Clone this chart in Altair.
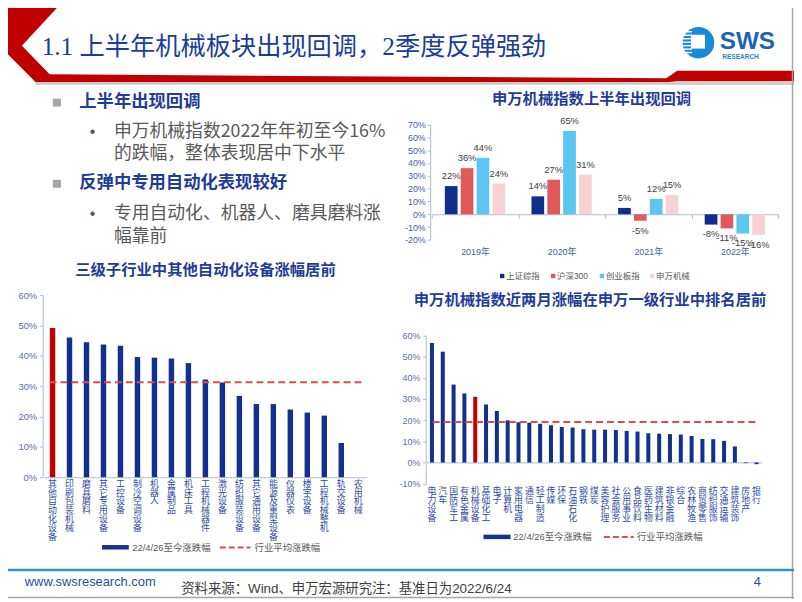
import altair as alt
import pandas as pd

# ---------------- data ----------------
tr_years = ["2019年", "2020年", "2021年", "2022年"]
tr_series = ["上证综指", "沪深300", "创业板指", "申万机械"]
tr_values = {
    "上证综指": [22, 14, 5, -8],
    "沪深300": [36, 27, -5, -11],
    "创业板指": [44, 65, 12, -15],
    "申万机械": [24, 31, 15, -16],
}
tr_colors = ["#0E2D8C", "#E05A5B", "#5CC6F0", "#F7D1D4"]

bl_categories = ["其他自动化设备", "印刷包装机械", "磨具磨料", "其它专用设备", "工控设备",
                 "制冷空调设备", "机器人", "金属制品", "机床工具", "工程机械器件", "激光设备",
                 "纺织服装设备", "其它通用设备", "能源及重型设备", "仪器仪表", "楼宇设备",
                 "工程机械整机", "轨交设备", "农用机械"]
bl_values = [49.2, 46.0, 44.5, 43.7, 43.3, 39.6, 39.4, 39.1, 37.6, 32.2, 31.2, 26.8,
             24.1, 24.1, 22.3, 21.3, 20.3, 11.3, 0.0]
bl_average = 31.3
bl_highlight = "其他自动化设备"

br_categories = ["电力设备", "汽车", "国防军工", "有色金属", "机械设备", "基础化工", "电子",
                 "计算机", "家用电器", "通信", "轻工制造", "传媒", "环保", "石油石化", "钢铁",
                 "煤炭", "美容护理", "社会服务", "公用事业", "食品饮料", "医药生物", "建筑材料",
                 "非银金融", "综合", "农林牧渔", "商贸零售", "纺织服饰", "交通运输", "建筑装饰",
                 "房地产", "银行"]
br_values = [56.4, 52.3, 36.8, 32.6, 31.0, 27.4, 24.3, 19.9, 19.0, 18.8, 18.3, 17.6, 16.8,
             16.5, 15.7, 15.5, 15.5, 15.3, 14.9, 14.6, 13.8, 13.6, 13.4, 13.2, 12.5, 11.1,
             11.0, 10.2, 7.6, -0.3, -0.8]
br_average = 19.1
br_highlight = "机械设备"

slide_title = "1.1 上半年机械板块出现回调，2季度反弹强劲"
tr_title = "申万机械指数上半年出现回调"
bl_title = "三级子行业中其他自动化设备涨幅居前"
br_title = "申万机械指数近两月涨幅在申万一级行业中排名居前"
legend_bar = "22/4/26至今涨跌幅"
legend_avg = "行业平均涨跌幅"
heading1 = "上半年出现回调"
body1 = ["申万机械指数2022年年初至今16%", "的跌幅，整体表现居中下水平"]
heading2 = "反弹中专用自动化表现较好"
body2 = ["专用自动化、机器人、磨具磨料涨", "幅靠前"]
footer_url = "www.swsresearch.com"
footer_src = "资料来源：Wind、申万宏源研究注：基准日为2022/6/24"
page_no = "4"

# ---------------- layout helpers ----------------
W, H = 794, 594
OX, OY = 8, 8
CJK = "Noto Sans CJK SC"
LAT = "Liberation Sans, Noto Sans CJK SC"
RED = "#C00000"
NAVY = "#12308E"
DASH = "#E5494D"
AX = "#A9BAD9"
BLUE_T = "#1F3C99"
GRAY_T = "#595959"


def cx(x):
    return x - OX


def cy(y):
    return y - OY


one = pd.DataFrame({"k": [0]})


def text(s, x, y, size, color, font=CJK, weight="normal", align="left", baseline="middle"):
    return alt.Chart(one).mark_text(
        text=s, fontSize=size, color=color, font=font, fontWeight=weight,
        align=align, baseline=baseline
    ).encode(x=alt.value(cx(x)), y=alt.value(cy(y)))


def rect(x1, y1, x2, y2, color):
    return alt.Chart(one).mark_rect(color=color).encode(
        x=alt.value(cx(x1)), x2=alt.value(cx(x2)), y=alt.value(cy(y1)), y2=alt.value(cy(y2)))


def hline(x1, x2, y, color, width, dash=None):
    kw = dict(color=color, strokeWidth=width)
    if dash:
        kw["strokeDash"] = dash
    return alt.Chart(one).mark_rule(**kw).encode(
        x=alt.value(cx(x1)), x2=alt.value(cx(x2)), y=alt.value(cy(y)))


def vline(x, y1, y2, color, width):
    return alt.Chart(one).mark_rule(color=color, strokeWidth=width).encode(
        x=alt.value(cx(x)), y=alt.value(cy(y1)), y2=alt.value(cy(y2)))


layers = []

# ---------------- header decoration ----------------
chev = pd.DataFrame({
    "y": [cy(v) for v in [0, 43, 52, 72, 80]],
    "x1": [cx(v) for v in [8, 8, 8, 28, 36]],
    "x2": [cx(v) for v in [62, 22, 30.7, 50, 50]],
})
layers.append(alt.Chart(chev).mark_area(orient="horizontal", color=RED).encode(
    y=alt.Y("y:Q", scale=None, axis=None),
    x=alt.X("x1:Q", scale=None, axis=None), x2="x2:Q"))
band = pd.DataFrame({
    "x": [cx(v) for v in [49, 673, 684, 802]],
    "y1": [cy(v) for v in [72, 76, 68.3, 68.3]],
    "y2": [cy(v) for v in [80, 80, 79, 79]],
})
layers.append(alt.Chart(band).mark_area(orient="vertical", color=RED).encode(
    x=alt.X("x:Q", scale=None, axis=None),
    y=alt.Y("y1:Q", scale=None, axis=None), y2="y2:Q"))
layers.append(rect(36, 80, 802, 82.5, "#C9C9C9"))

# logo
layers.append(alt.Chart(one).mark_circle(size=1018, color="#1B8AD6", opacity=1).encode(
    x=alt.value(cx(705.5)), y=alt.value(cy(40))))
stripes = pd.DataFrame({"y": [cy(v) for v in [29, 32.5, 36, 39.5, 43, 46.5, 50]]})
layers.append(alt.Chart(stripes).mark_rule(color="white", strokeWidth=1.4).encode(
    y=alt.Y("y:Q", scale=None, axis=None), x=alt.value(cx(686)), x2=alt.value(cx(699))))
layers.append(rect(698, 32, 712, 46, "white"))
layers.append(text("SWS", 727, 46, 24.5, "#1C63B7", font="Liberation Sans", weight="bold",
                   baseline="alphabetic"))
layers.append(text("RESEARCH", 729.5, 56.5, 6.6, "#2A86CF", font="Liberation Sans",
                   weight="bold", baseline="alphabetic"))

# slide title
layers.append(text(slide_title, 42, 44, 25.5, "#1A3D99",
                   font="Liberation Serif, Noto Sans CJK SC"))

# frame
layers.append(vline(800.5, 0, 602, "#A6A6A6", 1.5))
layers.append(hline(0, 802, 600.5, "#A6A6A6", 1.5))

# ---------------- left bullet text ----------------
layers.append(rect(53.3, 96.5, 61.5, 104.5, "#A6A6A6"))
layers.append(text(heading1, 80, 100, 17.5, BLUE_T, weight="bold"))
layers.append(text("•", 93.5, 130, 16, GRAY_T, font="Liberation Sans", align="center"))
layers.append(text(body1[0], 115, 130, 18, GRAY_T))
layers.append(text(body1[1], 115, 153, 18, GRAY_T))
layers.append(rect(53.3, 178.5, 61.5, 186.5, "#A6A6A6"))
layers.append(text(heading2, 80, 182, 17.5, BLUE_T, weight="bold"))
layers.append(text("•", 93.5, 213, 16, GRAY_T, font="Liberation Sans", align="center"))
layers.append(text(body2[0], 115, 213, 18, GRAY_T))
layers.append(text(body2[1], 115, 236, 18, GRAY_T))

# ---------------- top-right grouped bar chart ----------------
rows = []
for s in tr_series:
    for yr, v in zip(tr_years, tr_values[s]):
        rows.append({"year": yr, "series": s, "v": v, "lbl": f"{v}%"})
tr_df = pd.DataFrame(rows)

tr_x = alt.X("year:N", scale=alt.Scale(domain=tr_years, range=[cx(436), cx(786)],
                                       paddingInner=0, paddingOuter=0),
             axis=alt.Axis(orient="bottom", offset=cy(213.3) - H, title=None, labelAngle=0,
                           tickBand="extent", tickSize=4, tickColor=AX, domainColor=AX,
                           labelPadding=30, labelFontSize=9, labelColor="#3F5FA8",
                           labelFont=LAT))
tr_xo = alt.XOffset("series:N", scale=alt.Scale(domain=tr_series, paddingInner=0.2,
                                                paddingOuter=0.83))
tr_y = alt.Y("v:Q", stack=None,
             scale=alt.Scale(domain=[-20, 70], range=[cy(239.3), cy(122.7)], nice=False),
             axis=alt.Axis(orient="left", offset=-cx(434.5), values=list(range(-20, 71, 10)),
                           labelExpr="datum.value + '%'", title=None, grid=False, tickSize=3,
                           tickColor=AX, domainColor=AX, labelFontSize=9,
                           labelColor="#3F5FA8", labelFont=LAT, labelPadding=2))
tr_color = alt.Color("series:N", scale=alt.Scale(domain=tr_series, range=tr_colors),
                     legend=None)
tr_bars = alt.Chart(tr_df).mark_bar().encode(x=tr_x, xOffset=tr_xo, y=tr_y, color=tr_color)
tr_pos = alt.Chart(tr_df).transform_filter("datum.v >= 0").mark_text(
    dy=-10, fontSize=9.5, color="#404040", font=LAT).encode(
    x=tr_x, xOffset=tr_xo, y=tr_y, text="lbl:N")
tr_neg = alt.Chart(tr_df).transform_filter("datum.v < 0").mark_text(
    dy=10, fontSize=9.5, color="#404040", font=LAT).encode(
    x=tr_x, xOffset=tr_xo, y=tr_y, text="lbl:N")
layers.append(alt.layer(tr_bars, tr_pos, tr_neg))

layers.append(text(tr_title, 597.5, 97, 15.5, BLUE_T, weight="bold", align="center"))
tr_leg_marker_x = [507.2, 558.7, 608, 658.7]
for s, c, mx in zip(tr_series, tr_colors, tr_leg_marker_x):
    layers.append(rect(mx - 2.2, 273.5, mx + 2.2, 277.9, c))
    layers.append(text(s, mx + 4, 275.7, 8.5, GRAY_T, font=LAT))

# ---------------- bottom-left bar chart ----------------
bl_df = pd.DataFrame({"cat": bl_categories, "v": bl_values})
bl_x = alt.X("cat:N", sort=None,
             scale=alt.Scale(domain=bl_categories, range=[cx(44.4), cx(370.4)],
                             paddingInner=0.68, paddingOuter=0.34),
             axis=alt.Axis(orient="bottom", offset=cy(479) - H, title=None, labelAngle=0,
                           labelExpr="split(datum.label, '')", labelFontSize=9,
                           labelLineHeight=9, labelFont=CJK, labelColor="#2E4C9E",
                           labelPadding=2, ticks=False, tickSize=0, domainColor=AX,
                           labelOverlap=False, labelBaseline="top"))
bl_y = alt.Y("v:Q", scale=alt.Scale(domain=[0, 60], range=[cy(479), cy(295)], nice=False),
             axis=alt.Axis(orient="left", offset=-cx(43), values=list(range(0, 61, 10)),
                           labelExpr="datum.value + '%'", title=None, grid=False, tickSize=3,
                           tickColor=AX, domainColor=AX, labelFontSize=9.5,
                           labelColor="#5A6FA8", labelFont=LAT, labelPadding=3))
bl_bars = alt.Chart(bl_df).mark_bar().encode(
    x=bl_x, y=bl_y,
    color=alt.condition(alt.datum.cat == bl_highlight, alt.value(RED), alt.value(NAVY)))
bl_avg = alt.Chart(pd.DataFrame({"v": [bl_average]})).mark_rule(
    color=DASH, strokeWidth=2, strokeDash=[7, 4]).encode(
    y=bl_y, x=alt.value(cx(50)), x2=alt.value(cx(365)))
layers.append(alt.layer(bl_bars, bl_avg))
layers.append(text(bl_title, 207.5, 270, 15.5, BLUE_T, weight="bold", align="center"))
layers.append(rect(103, 547.5, 130, 552, NAVY))
layers.append(text(legend_bar, 133.5, 550, 9.5, GRAY_T, font=LAT))
layers.append(hline(222, 253, 550, DASH, 2, [6, 3]))
layers.append(text(legend_avg, 257, 550, 9.5, GRAY_T, font=LAT))

# ---------------- bottom-right bar chart ----------------
br_df = pd.DataFrame({"cat": br_categories, "v": br_values})
br_x = alt.X("cat:N", sort=None,
             scale=alt.Scale(domain=br_categories, range=[cx(430.8), cx(769.6)],
                             paddingInner=0.63, paddingOuter=0.315),
             axis=alt.Axis(orient="bottom", offset=cy(464) - H, title=None, labelAngle=0,
                           labelExpr="split(datum.label, '')", labelFontSize=9,
                           labelLineHeight=9, labelFont=CJK, labelColor="#2E4C9E",
                           labelPadding=24.5, ticks=False, tickSize=0, domainColor=AX,
                           labelOverlap=False, labelBaseline="top"))
br_y = alt.Y("v:Q", scale=alt.Scale(domain=[-10, 60], range=[cy(485.5), cy(335.7)], nice=False),
             axis=alt.Axis(orient="left", offset=-cx(430), values=list(range(-10, 61, 10)),
                           labelExpr="datum.value + '%'", title=None, grid=False, tickSize=3,
                           tickColor=AX, domainColor=AX, labelFontSize=9,
                           labelColor="#5A6FA8", labelFont=LAT, labelPadding=3))
br_bars = alt.Chart(br_df).mark_bar().encode(
    x=br_x, y=br_y,
    color=alt.condition(alt.datum.cat == br_highlight, alt.value(RED), alt.value(NAVY)))
br_avg = alt.Chart(pd.DataFrame({"v": [br_average]})).mark_rule(
    color=DASH, strokeWidth=2, strokeDash=[7, 4]).encode(
    y=br_y, x=alt.value(cx(437)), x2=alt.value(cx(765)))
layers.append(alt.layer(br_bars, br_avg))
layers.append(text(br_title, 596, 300, 15.5, BLUE_T, weight="bold", align="center"))
layers.append(rect(488.3, 537, 515.7, 541.5, NAVY))
layers.append(text(legend_bar, 518.5, 539.3, 9.5, GRAY_T, font=LAT))
layers.append(hline(610, 640, 539.3, DASH, 2, [6, 3]))
layers.append(text(legend_avg, 643.3, 539.3, 9.5, GRAY_T, font=LAT))

# ---------------- footer ----------------
layers.append(hline(0, 802, 572.7, "#2E98CA", 2.6))
layers.append(text(footer_url, 25, 584.5, 13, "#1F4E9E", font="Liberation Sans"))
layers.append(text(footer_src, 183, 592, 13.5, "#404040", font=LAT))
layers.append(text(page_no, 765, 585, 13, "#1F4E9E", font="Liberation Sans", align="center"))

chart = alt.layer(*layers).properties(
    width=W, height=H, autosize=alt.AutoSizeParams(type="none"), padding=0
).resolve_scale(x="independent", y="independent").configure_view(strokeWidth=0)

chart.save("out.html", embed_options={"renderer": "svg", "actions": False})
